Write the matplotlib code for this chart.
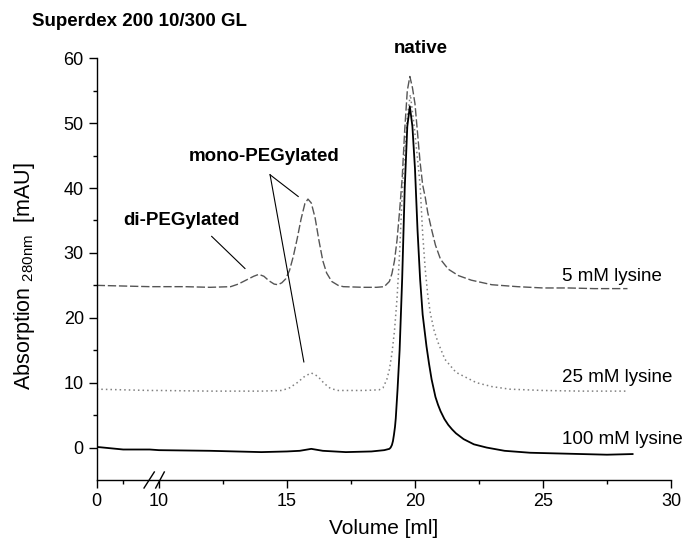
import numpy as np
import matplotlib
matplotlib.use("Agg")
import matplotlib.pyplot as plt

plt.rcParams['font.family'] = ['Liberation Sans', 'DejaVu Sans']
plt.rcParams['mathtext.fontset'] = 'custom'
plt.rcParams['mathtext.rm'] = 'Liberation Sans'
plt.rcParams['mathtext.it'] = 'Liberation Sans:italic'

# 5 mM lysine (dashed)
x5 = [0, 2.5, 5, 10, 11, 12, 12.8, 13.1, 13.4, 13.7, 13.9, 14.1, 14.3, 14.5, 14.65,
      14.8, 14.95, 15.1, 15.25, 15.4, 15.55, 15.7, 15.82, 15.95, 16.1, 16.25, 16.4,
      16.55, 16.75, 17.0, 17.2, 18.0, 18.5, 18.8, 19.0, 19.1, 19.2, 19.3, 19.4, 19.5,
      19.6, 19.7, 19.8, 19.9, 20.0, 20.1, 20.2, 20.3, 20.4, 20.5, 20.65, 20.8, 21.0,
      21.3, 21.7, 22.2, 23.0, 24.0, 25.0, 26.0, 27.0, 28.3]
y5 = [25.0, 24.9, 24.8, 24.8, 24.8, 24.7, 24.8, 25.2, 25.8, 26.4, 26.7, 26.4, 25.7, 25.2, 25.1,
      25.4, 26.0, 27.3, 29.5, 32.2, 35.2, 37.6, 38.3, 37.7, 35.4, 31.9, 28.8,
      26.9, 25.6, 25.0, 24.8, 24.7, 24.7, 24.8, 25.6, 26.8, 28.8, 32.0, 36.5, 41.5,
      49.0, 55.0, 57.2, 55.5, 53.0, 48.5, 44.0, 40.5, 38.6, 36.2, 33.6, 31.2, 29.0,
      27.5, 26.5, 25.8, 25.1, 24.8, 24.6, 24.6, 24.5, 24.5]

# 25 mM lysine (dotted)
x25 = [0, 2.5, 5, 10, 12, 14, 14.8, 15.1, 15.4, 15.7, 15.95, 16.2, 16.45, 16.7, 17.0,
       18.0, 18.6, 18.75, 18.9, 19.0, 19.1, 19.2, 19.3, 19.4, 19.5, 19.6, 19.7, 19.82,
       19.97, 20.1, 20.2, 20.3, 20.4, 20.5, 20.6, 20.75, 20.9, 21.17, 21.6, 22.4, 23.0,
       23.7, 25.0, 26.5, 28.3]
y25 = [9.0, 8.9, 8.8, 8.8, 8.7, 8.7, 8.8, 9.2, 10.0, 11.0, 11.5, 11.0, 9.9, 9.1, 8.8,
       8.8, 8.9, 9.2, 10.5, 12.0, 14.5, 18.0, 23.0, 30.0, 39.0, 46.0, 51.0, 54.4,
       49.5, 44.5, 40.5, 33.0, 27.5, 23.5, 20.7, 18.0, 16.2, 13.6, 11.6, 10.0, 9.4,
       9.0, 8.8, 8.7, 8.7]

# 100 mM lysine (solid)
x100 = [0, 2.5, 5, 10, 12, 14, 15, 15.5, 15.95, 16.4, 17.3, 18.3, 18.8, 19.0, 19.05,
        19.1, 19.14, 19.18, 19.22, 19.25, 19.32, 19.4, 19.5, 19.6, 19.7, 19.8, 19.9,
        20.0, 20.1, 20.2, 20.3, 20.45, 20.55, 20.65, 20.8, 20.9, 21.0, 21.15, 21.3,
        21.45, 21.6, 21.9, 22.1, 22.3, 22.8, 23.5, 24.5, 25.5, 26.5, 27.5, 28.5]
y100 = [0.1, -0.3, -0.3, -0.4, -0.5, -0.7, -0.6, -0.5, -0.2, -0.5, -0.7, -0.6, -0.4, -0.2, 0.0,
        0.4, 1.0, 2.0, 3.2, 4.5, 9.0, 15.0, 26.0, 40.0, 49.5, 52.6, 49.5,
        43.0, 33.5, 26.0, 20.5, 15.6, 12.9, 10.5, 7.8, 6.6, 5.6, 4.4, 3.5,
        2.8, 2.2, 1.3, 0.9, 0.5, 0.0, -0.5, -0.8, -0.9, -1.0, -1.1, -1.0]

xticks = [0, 10, 15, 20, 25, 30]
xminor = [2.5, 12.5, 17.5, 22.5, 27.5]
yticks = [0, 10, 20, 30, 40, 50, 60]
yminor = [5, 15, 25, 35, 45, 55]

# broken x axis: 0-5 compressed, 5-9.64 cut out
bx = [-10, 0, 5, 9.64, 40]
bp = [-4.14, 0, 2.07, 2.071, 32.431]


def fwd(x):
    return np.interp(x, bx, bp)


def inv(p):
    return np.interp(p, bp, bx)


fig = plt.figure(figsize=(6.85, 5.39), dpi=100)
ax = fig.add_axes([96.7 / 685, 1 - 480 / 539, (671 - 96.7) / 685, (480 - 58.3) / 539])
ax.set_xscale('function', functions=(fwd, inv))

ax.plot(x5, y5, color='#555555', lw=1.0, dashes=(6, 2))
ax.plot(x25, y25, color='#808080', lw=1.1, dashes=(1, 2))
ax.plot(x100, y100, color='black', lw=1.3)

ax.set_xlim(0, 30)
ax.set_ylim(-5, 60)
ax.set_xticks(xticks)
ax.set_xticks(xminor, minor=True)
ax.set_yticks(yticks)
ax.set_yticks(yminor, minor=True)
ax.set_xticklabels([str(t) for t in xticks])
ax.spines['top'].set_visible(False)
ax.spines['right'].set_visible(False)
for s in ['left', 'bottom']:
    ax.spines[s].set_linewidth(1.0)
ax.tick_params(which='major', direction='out', length=5.8, width=1.0, labelsize=13, pad=3.5)
ax.tick_params(which='minor', direction='out', length=2.9, width=1.0)

ax.set_xlabel('Volume [ml]', fontsize=15)
ax.xaxis.set_label_coords(0.5, -0.092)
ax.set_ylabel(r'Absorption $_{\mathregular{280nm}}$  [mAU]', fontsize=15.5)
ax.yaxis.set_label_coords(-0.104, 0.484)

# axis break marks
for x0, x1 in [(0.0824, 0.1003), (0.1027, 0.1177)]:
    ax.plot([x0, x1], [-0.019, 0.019], color='black', lw=1.0,
            transform=ax.transAxes, clip_on=False)

fig.text(32 / 685, 1 - 22 / 539, 'Superdex 200 10/300 GL', fontsize=13.5,
         fontweight='bold', ha='left', va='center')

ax.text(20.23, 61.5, 'native', fontsize=13.5, fontweight='bold', ha='center', va='center')
ax.text(14.1, 44.9, 'mono-PEGylated', fontsize=13.5, fontweight='bold', ha='center', va='center')
ax.text(10.89, 35.0, 'di-PEGylated', fontsize=13.5, fontweight='bold', ha='center', va='center')

ax.plot([14.34, 15.44], [42.05, 38.7], color='black', lw=0.8)
ax.plot([14.34, 15.66], [42.05, 13.2], color='black', lw=0.8)
ax.plot([12.06, 13.36], [32.55, 27.6], color='black', lw=0.8)

ax.text(25.74, 26.4, '5 mM lysine', fontsize=13.5, ha='left', va='center')
ax.text(25.74, 10.8, '25 mM lysine', fontsize=13.5, ha='left', va='center')
ax.text(25.74, 1.3, '100 mM lysine', fontsize=13.5, ha='left', va='center')

fig.savefig('out.png', dpi=100)
